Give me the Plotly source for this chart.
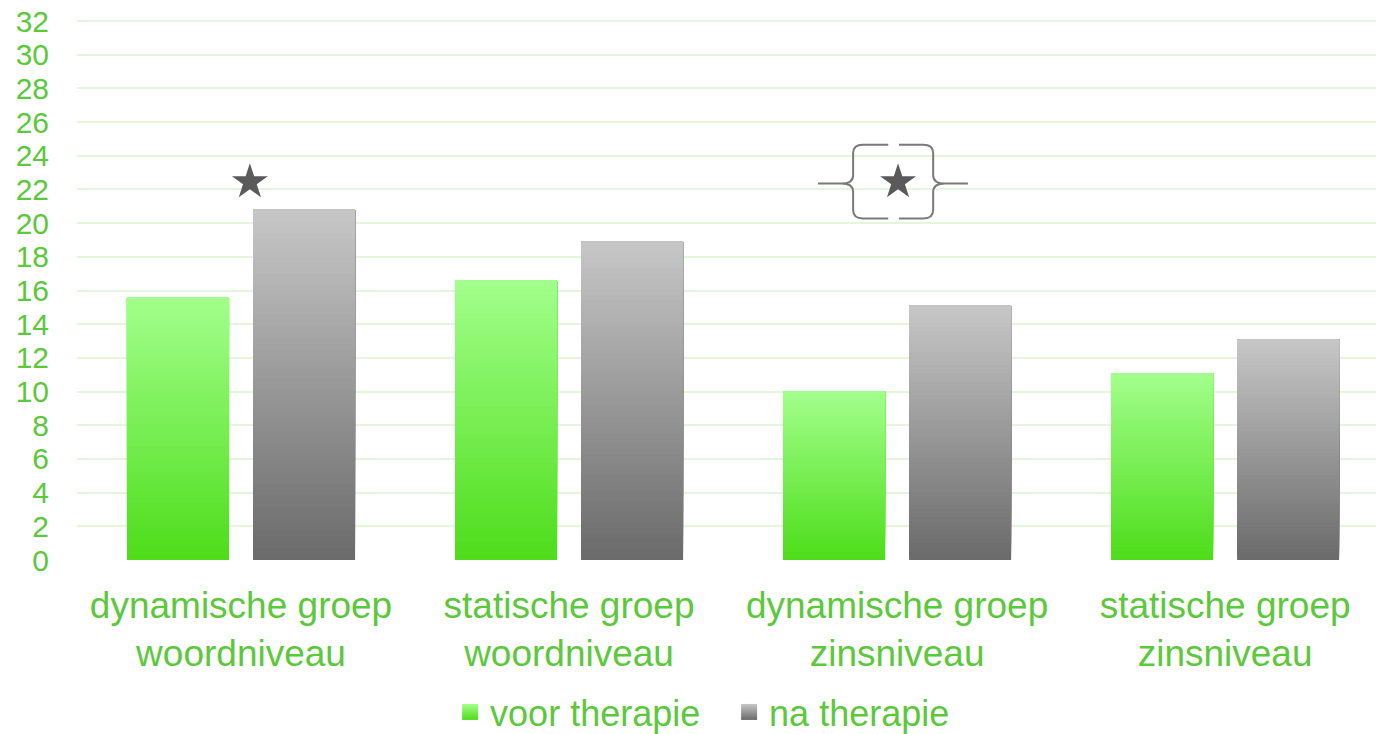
import plotly.graph_objects as go

categories = ["dynamische groep<br>woordniveau", "statische groep<br>woordniveau",
              "dynamische groep<br>zinsniveau", "statische groep<br>zinsniveau"]
voor_therapie = [15.6, 16.6, 10.0, 11.1]
na_therapie = [20.8, 18.9, 15.1, 13.1]
series_names = ["voor therapie", "na therapie"]
y_ticks = list(range(0, 33, 2))

GREEN_TOP = (162, 255, 140)
GREEN_BOT = (78, 221, 26)
GRAY_TOP = (199, 199, 199)
GRAY_BOT = (106, 106, 106)
TEXT = "#5cc83c"
FONT = "Liberation Sans, Arial, sans-serif"

N = 60
BAR_W = 0.311
OFFSETS = [-0.3476, 0.0366]


def lerp(c1, c2, t):
    return "rgb(%d,%d,%d)" % tuple(round(a + (b - a) * t) for a, b in zip(c1, c2))


fig = go.Figure()
xs = list(range(len(categories)))

for vals, off, top, bot in [(voor_therapie, OFFSETS[0], GREEN_TOP, GREEN_BOT),
                            (na_therapie, OFFSETS[1], GRAY_TOP, GRAY_BOT)]:
    bx, by, bb, bc = [], [], [], []
    for i in range(N):
        t = i / N
        for x, v in zip(xs, vals):
            bx.append(x)
            bb.append(v * t)
            by.append(v * (1 - t))
            bc.append(lerp(bot, top, (i + 0.5) / N))
    fig.add_trace(go.Bar(x=bx, y=by, base=bb, width=BAR_W, offset=off,
                         marker=dict(color=bc, line=dict(width=0)),
                         showlegend=False, hoverinfo="skip"))

# legend entries
for name, top, bot in [(series_names[0], GREEN_TOP, GREEN_BOT),
                       (series_names[1], GRAY_TOP, GRAY_BOT)]:
    fig.add_trace(go.Scatter(x=[None], y=[None], mode="markers", name=name,
                             marker=dict(symbol="square", size=20,
                                         color=lerp(top, top, 0),
                                         gradient=dict(type="vertical", color=lerp(bot, bot, 0)),
                                         line=dict(width=0))))

# significance stars
star_x = [0.027, 2.003]
star_y = [22.44, 22.44]
fig.add_trace(go.Scatter(x=star_x, y=star_y, mode="markers", showlegend=False,
                         hoverinfo="skip",
                         marker=dict(symbol="star", size=27, color="#5a5a5a")))

# brace around second star
brace_col = "#7a7a7a"
lx_pt, lx_v, lx_end = 1.759, 1.866, 1.973
rx_st, rx_v, rx_pt = 2.006, 2.110, 2.216
yt, ym, yb = 24.66, 22.35, 20.28
r = 0.03
ry = 0.5
left = (f"M {lx_end},{yt} L {lx_v + r},{yt} Q {lx_v},{yt} {lx_v},{yt - ry} "
        f"L {lx_v},{ym + ry} Q {lx_v},{ym} {lx_v - r * 1.2},{ym} L {lx_pt},{ym} "
        f"M {lx_v - r * 1.2},{ym} Q {lx_v},{ym} {lx_v},{ym - ry} "
        f"L {lx_v},{yb + ry} Q {lx_v},{yb} {lx_v + r},{yb} L {lx_end},{yb}")
right = (f"M {rx_st},{yt} L {rx_v - r},{yt} Q {rx_v},{yt} {rx_v},{yt - ry} "
         f"L {rx_v},{ym + ry} Q {rx_v},{ym} {rx_v + r * 1.2},{ym} L {rx_pt},{ym} "
         f"M {rx_v + r * 1.2},{ym} Q {rx_v},{ym} {rx_v},{ym - ry} "
         f"L {rx_v},{yb + ry} Q {rx_v},{yb} {rx_v - r},{yb} L {rx_st},{yb}")
for p in (left, right):
    fig.add_shape(type="path", path=p, xref="x", yref="y",
                  line=dict(color=brace_col, width=2))

fig.update_layout(
    width=1376, height=734,
    margin=dict(l=77, r=0, t=20, b=173.5, autoexpand=False),
    paper_bgcolor="white", plot_bgcolor="white",
    barmode="overlay",
    font=dict(family=FONT, color=TEXT),
    showlegend=True,
    legend=dict(orientation="h", x=0.502, xanchor="center", y=-0.226, yanchor="top",
                font=dict(size=36, color=TEXT, family=FONT), itemsizing="trace",
                entrywidth=234, entrywidthmode="pixels",
                bgcolor="rgba(0,0,0,0)"),
    xaxis=dict(range=[-0.5, 3.46], tickmode="array", tickvals=xs, ticktext=categories,
               showgrid=False, zeroline=False, showline=False, automargin=False,
               tickfont=dict(size=37, color=TEXT, family=FONT), ticks="",
               ticklabelstandoff=20),
    yaxis=dict(range=[0, 32.06], tickmode="array", tickvals=y_ticks,
               ticktext=[str(v) for v in y_ticks], automargin=False,
               showgrid=True, gridcolor="#e4f6dc", gridwidth=2,
               zeroline=False, showline=False, ticks="",
               tickfont=dict(size=30, color=TEXT, family=FONT),
               ticklabelstandoff=27),
)

fig.write_html("out.html", config={"displayModeBar": False},
               post_script="document.body.style.margin='0';document.body.style.overflow='hidden';")
